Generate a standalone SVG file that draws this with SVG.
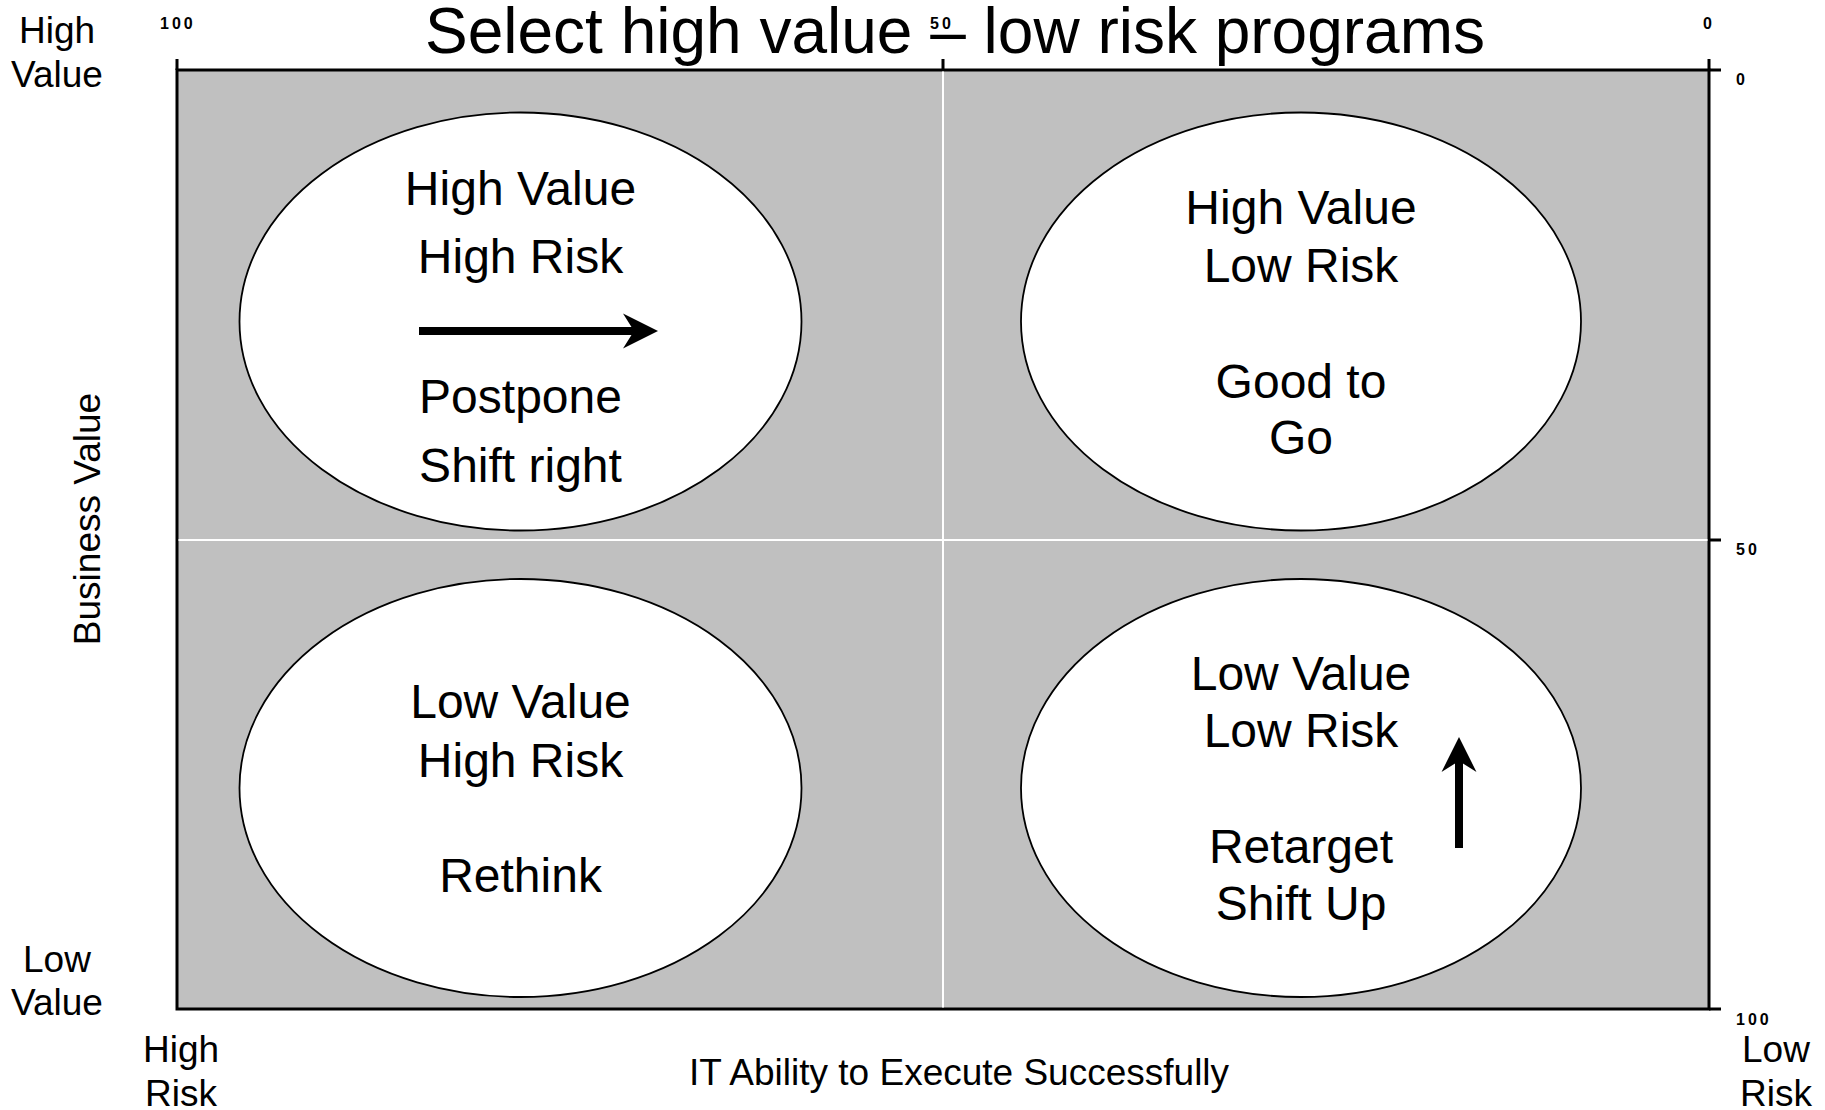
<svg xmlns="http://www.w3.org/2000/svg" width="1825" height="1110" viewBox="0 0 1825 1110">
  <style>
    text { font-family: "Liberation Sans", Arial, sans-serif; fill: #000; }
    .title { font-size: 64px; text-anchor: middle; }
    .axis { font-size: 37px; text-anchor: middle; }
    .tick { font-size: 16px; font-weight: bold; letter-spacing: 3px; }
    .node { font-size: 48px; text-anchor: middle; }
    .bubble { fill: #fff; stroke: #000; stroke-width: 1.8; }
    .tk { stroke: #000; stroke-width: 3; fill: none; }
    .div { stroke: #fff; stroke-width: 2; }
    .arrow { stroke: #000; stroke-width: 8; fill: none; marker-end: url(#head); }
  </style>
  <defs>
    <marker id="head" markerUnits="userSpaceOnUse" markerWidth="40" markerHeight="40" viewBox="0 -20 40 40" refX="11" refY="0" orient="auto">
      <path d="M0,-17.5 L35,0 L0,17.5 L11,0 Z" fill="#000"/>
    </marker>
  </defs>
  <rect width="1825" height="1110" fill="#fff"/>

  <g id="title">
    <text class="title" x="955" y="53">Select high value – low risk programs</text>
  </g>

  <g id="grid">
    <rect x="177" y="70" width="1532" height="939" fill="#C0C0C0" stroke="#000" stroke-width="3"/>
    <line class="div" x1="943" y1="71.5" x2="943" y2="1007.5"/>
    <line class="div" x1="178.5" y1="540" x2="1707.5" y2="540"/>
    <path class="tk" d="M177,59 V70 M943,59 V70 M1709,59 V70 M1709,70 H1721 M1709,540 H1721 M1709,1009 H1721"/>
    <text class="tick" x="160" y="29">100</text>
    <text class="tick" x="930" y="29">50</text>
    <text class="tick" x="1703" y="29">0</text>
    <text class="tick" x="1736" y="85">0</text>
    <text class="tick" x="1736" y="555">50</text>
    <text class="tick" x="1736" y="1025">100</text>
  </g>

  <g id="axis-labels">
    <text class="axis" x="57" y="43">High</text>
    <text class="axis" x="57" y="87">Value</text>
    <text class="axis" x="57" y="972">Low</text>
    <text class="axis" x="57" y="1015">Value</text>
    <text class="axis" x="181" y="1062">High</text>
    <text class="axis" x="181" y="1106">Risk</text>
    <text class="axis" x="1776" y="1062">Low</text>
    <text class="axis" x="1776" y="1106">Risk</text>
    <text class="axis" x="959" y="1085">IT Ability to Execute Successfully</text>
    <text class="axis" transform="translate(100,519) rotate(-90)">Business Value</text>
  </g>

  <g id="node-high-value-high-risk">
    <ellipse class="bubble" cx="520.5" cy="321.5" rx="281" ry="209"/>
    <text class="node" x="520.5" y="205">High Value</text>
    <text class="node" x="520.5" y="273">High Risk</text>
    <text class="node" x="520.5" y="413">Postpone</text>
    <text class="node" x="520.5" y="482">Shift right</text>
  </g>

  <g id="node-high-value-low-risk">
    <ellipse class="bubble" cx="1301" cy="321.5" rx="280" ry="209"/>
    <text class="node" x="1301" y="224">High Value</text>
    <text class="node" x="1301" y="282">Low Risk</text>
    <text class="node" x="1301" y="398">Good to</text>
    <text class="node" x="1301" y="454">Go</text>
  </g>

  <g id="node-low-value-high-risk">
    <ellipse class="bubble" cx="520.5" cy="788" rx="281" ry="209"/>
    <text class="node" x="520.5" y="718">Low Value</text>
    <text class="node" x="520.5" y="777">High Risk</text>
    <text class="node" x="520.5" y="892">Rethink</text>
  </g>

  <g id="node-low-value-low-risk">
    <ellipse class="bubble" cx="1301" cy="788" rx="280" ry="209"/>
    <text class="node" x="1301" y="690">Low Value</text>
    <text class="node" x="1301" y="747">Low Risk</text>
    <text class="node" x="1301" y="863">Retarget</text>
    <text class="node" x="1301" y="920">Shift Up</text>
  </g>

  <g id="connectors">
    <line class="arrow" x1="419" y1="331" x2="634" y2="331"/>
    <line class="arrow" x1="1459" y1="848" x2="1459" y2="761"/>
  </g>
</svg>
